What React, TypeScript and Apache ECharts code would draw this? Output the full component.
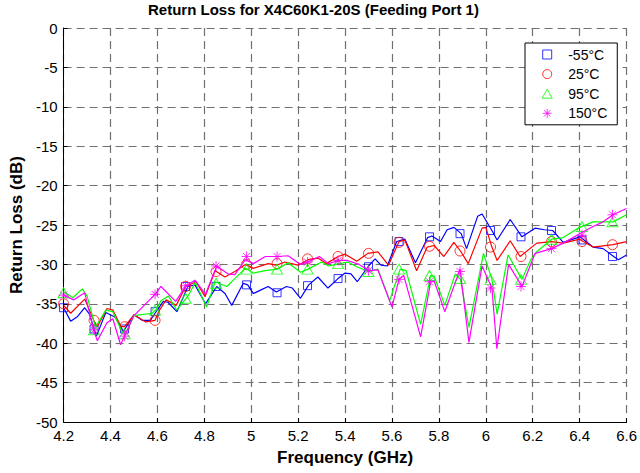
import React, { useEffect, useRef } from "react";
import * as echarts from "echarts";

// ---------- data ----------
const TITLE = "Return Loss for X4C60K1-20S (Feeding Port 1)";
const X_NAME = "Frequency (GHz)";
const Y_NAME = "Return Loss (dB)";
const X_MIN = 4.2;
const X_MAX = 6.6;
const X_STEP = 0.2;
const Y_MIN = -50;
const Y_MAX = 0;
const Y_STEP = 5;

const SERIES_NAMES = ["-55°C", "25°C", "95°C", "150°C"];
const SERIES_COLORS = ["#0000ff", "#ff0000", "#00ff00", "#ff00ff"];

// frequencies where markers are drawn
const MARKER_FREQ = [4.2, 4.33, 4.46, 4.59, 4.72, 4.85, 4.98, 5.11, 5.24, 5.37, 5.5, 5.63, 5.76, 5.89, 6.02, 6.15, 6.28, 6.41, 6.54];

const BLUE_MARKERS = [-35.5, -38.2, -38.2, -36.0, -32.8, -32.8, -32.6, -33.6, -32.7, -31.8, -30.3, -27.1, -26.5, -26.1, -25.7, -26.5, -25.7, -26.9, -29.0];
const RED_MARKERS = [-35.0, -37.1, -37.9, -37.1, -32.8, -30.9, -30.0, -29.9, -29.3, -29.0, -28.6, -27.2, -27.7, -28.3, -27.8, -29.0, -27.1, -27.1, -27.5];
const GREEN_MARKERS = [-33.6, -38.3, -38.8, -35.8, -34.3, -32.4, -30.6, -30.6, -30.6, -29.9, -30.9, -30.6, -31.4, -31.8, -31.9, -31.9, -26.8, -25.2, -24.6];
const MAGENTA_MARKERS = [-33.9, -38.3, -39.1, -33.8, -32.7, -30.2, -29.0, -29.0, -29.7, -29.5, -30.8, -31.9, -32.2, -30.9, -33.0, -32.8, -28.0, -26.3, -23.7];

// measured curves: [frequency GHz, return loss dB]
const BLUE_LINE = [
  [4.2, -35.5], [4.23, -37.2], [4.26, -36.6], [4.29, -35.5], [4.31, -36.3], [4.34, -39.1], [4.38, -36.1],
  [4.42, -36.7], [4.455, -38.5], [4.5, -36.4], [4.535, -37.1], [4.57, -37.1], [4.59, -36.2], [4.625, -34.7],
  [4.645, -34.8], [4.683, -36.0], [4.73, -32.8], [4.76, -32.6], [4.805, -35.0], [4.853, -32.8], [4.888, -33.7],
  [4.917, -35.2], [4.966, -32.4], [4.985, -32.6], [5.009, -33.7], [5.044, -33.2], [5.072, -32.8], [5.107, -33.5],
  [5.15, -32.8], [5.175, -33.0], [5.21, -34.3], [5.245, -32.6], [5.284, -31.6], [5.327, -33.0], [5.37, -31.8],
  [5.4, -31.1], [5.425, -31.2], [5.452, -32.2], [5.5, -30.2], [5.528, -29.3], [5.553, -30.1], [5.58, -30.2],
  [5.62, -27.1], [5.655, -26.8], [5.7, -29.8], [5.752, -26.6], [5.77, -26.4], [5.807, -27.1], [5.835, -25.6],
  [5.864, -25.3], [5.895, -26.1], [5.918, -28.0], [5.965, -23.9], [5.984, -23.6], [6.026, -25.7], [6.048, -26.9],
  [6.104, -24.3], [6.154, -26.5], [6.21, -25.4], [6.25, -25.6], [6.285, -25.7], [6.33, -27.2], [6.4, -26.5],
  [6.415, -26.8], [6.457, -27.8], [6.5, -28.0], [6.545, -29.0], [6.565, -29.4], [6.6, -28.8],
];
const RED_LINE = [
  [4.2, -35.2], [4.23, -36.2], [4.29, -34.4], [4.33, -37.2], [4.344, -37.9], [4.385, -35.6], [4.41, -35.8],
  [4.445, -37.9], [4.46, -37.9], [4.5, -36.4], [4.55, -37.3], [4.59, -37.1], [4.605, -36.0], [4.637, -34.5],
  [4.68, -35.2], [4.72, -32.8], [4.765, -32.2], [4.803, -34.1], [4.846, -30.8], [4.888, -31.6], [4.93, -30.9],
  [4.975, -30.0], [5.009, -30.5], [5.072, -29.9], [5.107, -30.1], [5.143, -29.7], [5.2, -30.1], [5.242, -29.4],
  [5.284, -29.2], [5.32, -29.9], [5.37, -29.0], [5.4, -28.7], [5.45, -29.6], [5.497, -28.6], [5.54, -28.4],
  [5.585, -30.1], [5.63, -27.1], [5.655, -26.9], [5.705, -30.8], [5.75, -27.8], [5.78, -27.6], [5.821, -29.0],
  [5.864, -27.2], [5.892, -28.3], [5.925, -29.9], [5.984, -25.4], [6.0, -25.3], [6.026, -27.8], [6.048, -29.5],
  [6.104, -27.0], [6.146, -29.0], [6.217, -27.3], [6.28, -27.1], [6.33, -27.3], [6.4, -26.8], [6.415, -27.1],
  [6.457, -27.8], [6.542, -27.5], [6.6, -27.1],
];
const GREEN_LINE = [
  [4.2, -33.5], [4.24, -34.2], [4.28, -33.1], [4.3, -34.0], [4.336, -38.0], [4.38, -35.8], [4.41, -36.0],
  [4.45, -38.6], [4.463, -38.9], [4.5, -36.5], [4.578, -36.2], [4.597, -35.7], [4.615, -34.6], [4.647, -34.0],
  [4.682, -35.8], [4.731, -34.0], [4.761, -32.3], [4.81, -35.4], [4.846, -32.2], [4.896, -32.8], [4.93, -31.8],
  [4.975, -30.5], [5.009, -31.1], [5.06, -30.8], [5.112, -30.6], [5.157, -29.8], [5.21, -31.0], [5.242, -30.6],
  [5.3, -29.7], [5.33, -30.2], [5.372, -29.9], [5.412, -29.7], [5.45, -30.3], [5.5, -30.9], [5.54, -30.6],
  [5.59, -34.6], [5.635, -30.6], [5.66, -30.8], [5.722, -37.6], [5.765, -31.4], [5.78, -31.5], [5.825, -35.2],
  [5.87, -31.2], [5.892, -31.9], [5.928, -38.0], [5.99, -28.6], [6.026, -31.9], [6.048, -36.3], [6.095, -28.8],
  [6.154, -31.9], [6.19, -29.5], [6.217, -28.4], [6.281, -26.8], [6.33, -26.6], [6.4, -25.3], [6.457, -24.6],
  [6.542, -24.6], [6.6, -23.7],
];
const MAGENTA_LINE = [
  [4.2, -33.9], [4.244, -34.5], [4.29, -33.6], [4.328, -38.3], [4.344, -39.7], [4.385, -37.4], [4.41, -36.9],
  [4.443, -40.2], [4.46, -39.1], [4.5, -36.5], [4.59, -33.8], [4.615, -32.8], [4.678, -34.7], [4.722, -32.7],
  [4.76, -32.0], [4.805, -33.8], [4.853, -30.2], [4.9, -31.2], [4.93, -31.3], [4.975, -29.4], [5.009, -29.9],
  [5.06, -29.0], [5.112, -29.0], [5.157, -28.9], [5.21, -30.0], [5.242, -29.7], [5.29, -29.0], [5.33, -29.9],
  [5.372, -29.5], [5.41, -29.5], [5.46, -30.0], [5.503, -30.8], [5.54, -30.7], [5.6, -35.4], [5.63, -31.9],
  [5.65, -31.4], [5.722, -39.2], [5.765, -32.2], [5.78, -32.1], [5.825, -36.0], [5.89, -30.6], [5.928, -39.9],
  [5.984, -30.2], [6.026, -33.0], [6.047, -40.7], [6.097, -30.0], [6.154, -32.8], [6.21, -28.6], [6.281, -28.0],
  [6.33, -27.3], [6.4, -26.1], [6.457, -25.2], [6.5, -24.6], [6.542, -23.7], [6.6, -22.9],
];

const LINES = [BLUE_LINE, RED_LINE, GREEN_LINE, MAGENTA_LINE];
const MARKERS = [BLUE_MARKERS, RED_MARKERS, GREEN_MARKERS, MAGENTA_MARKERS];

// ---------- styling ----------
const FONT = '"Liberation Sans", Arial, Helvetica, sans-serif';
const SQUARE = "path://M0,0L10,0L10,10L0,10Z";
const CIRCLE = "circle";
const TRIANGLE = "path://M5,0L10,9L0,9Z";
const STAR = "path://M5,0L5,10M0,5L10,5M1.5,1.5L8.5,8.5M1.5,8.5L8.5,1.5";
const SYMBOLS = [SQUARE, CIRCLE, TRIANGLE, STAR];
const SYMBOL_SIZES: any[] = [8, 10, [11, 10], 10];

export default function App() {
  const ref = useRef<HTMLDivElement>(null);

  useEffect(() => {
    if (!ref.current) return;
    const chart = echarts.init(ref.current, null, { renderer: "svg" });

    const series: any[] = [];
    SERIES_NAMES.forEach((name, i) => {
      series.push({
        name: name + " curve",
        type: "line",
        data: LINES[i],
        showSymbol: false,
        symbol: "none",
        lineStyle: { color: SERIES_COLORS[i], width: 1.2 },
        itemStyle: { color: SERIES_COLORS[i] },
        emphasis: { disabled: true },
        silent: true,
        z: 2 + i,
      });
      series.push({
        name,
        type: "scatter",
        data: MARKER_FREQ.map((f, k) => [f, MARKERS[i][k]]),
        symbol: SYMBOLS[i],
        symbolSize: SYMBOL_SIZES[i],
        itemStyle: { color: "rgba(0,0,0,0)", borderColor: SERIES_COLORS[i], borderWidth: 1 },
        emphasis: { disabled: true },
        silent: true,
        z: 2 + i,
      });
    });

    const option: any = {
      animation: false,
      backgroundColor: "#ffffff",
      textStyle: { fontFamily: FONT },
      title: {
        text: TITLE,
        left: 148,
        top: 2,
        padding: 0,
        textStyle: { fontFamily: FONT, fontSize: 15, fontWeight: "bold", color: "#000" },
      },
      grid: { left: 61, right: 13, top: 28, bottom: 51, containLabel: false },
      legend: {
        orient: "vertical",
        left: 525,
        top: 43,
        padding: [4.5, 10, 4.5, 16.7],
        itemWidth: 10,
        itemHeight: 9,
        itemGap: 5.6,
        backgroundColor: "#ffffff",
        borderColor: "#000000",
        borderWidth: 1,
        selectedMode: false,
        textStyle: { fontFamily: FONT, fontSize: 14, color: "#000", lineHeight: 14, padding: [0, 0, 0, 11] },
        data: SERIES_NAMES.map((name, i) => ({
          name,
          icon: SYMBOLS[i],
          itemStyle: { color: "rgba(0,0,0,0)", borderColor: SERIES_COLORS[i], borderWidth: 1 },
        })),
      },
      xAxis: {
        type: "value",
        min: X_MIN,
        max: X_MAX,
        interval: X_STEP,
        name: X_NAME,
        nameLocation: "middle",
        nameGap: 27,
        nameTextStyle: { fontFamily: FONT, fontSize: 17, fontWeight: "bold", color: "#000" },
        axisLine: { show: true, onZero: false, lineStyle: { color: "#000", width: 1 } },
        axisTick: { show: true, inside: true, length: 4, lineStyle: { color: "#000" } },
        axisLabel: {
          color: "#000",
          fontFamily: FONT,
          fontSize: 15,
          margin: 6,
          formatter: (v: number) => String(parseFloat(v.toFixed(1))),
        },
        splitLine: { show: true, lineStyle: { color: "#707070", type: [8, 5], width: 1.2 } },
      },
      yAxis: {
        type: "value",
        min: Y_MIN,
        max: Y_MAX,
        interval: Y_STEP,
        name: Y_NAME,
        nameLocation: "middle",
        nameGap: 34,
        nameTextStyle: { fontFamily: FONT, fontSize: 17, fontWeight: "bold", color: "#000" },
        axisLine: { show: true, onZero: false, lineStyle: { color: "#000", width: 1 } },
        axisTick: { show: true, inside: true, length: 4, lineStyle: { color: "#000" } },
        axisLabel: {
          color: "#000",
          fontFamily: FONT,
          fontSize: 15,
          margin: 6,
          formatter: (v: number) => String(Math.round(v)),
        },
        splitLine: { show: true, lineStyle: { color: "#707070", type: [8, 5], width: 1.2 } },
      },
      series,
    };

    chart.setOption(option);
    return () => {
      chart.dispose();
    };
  }, []);

  return (
    <div
      ref={ref}
      style={{ position: "fixed", left: 0, top: 0, width: 640, height: 473, background: "#fff" }}
    />
  );
}
